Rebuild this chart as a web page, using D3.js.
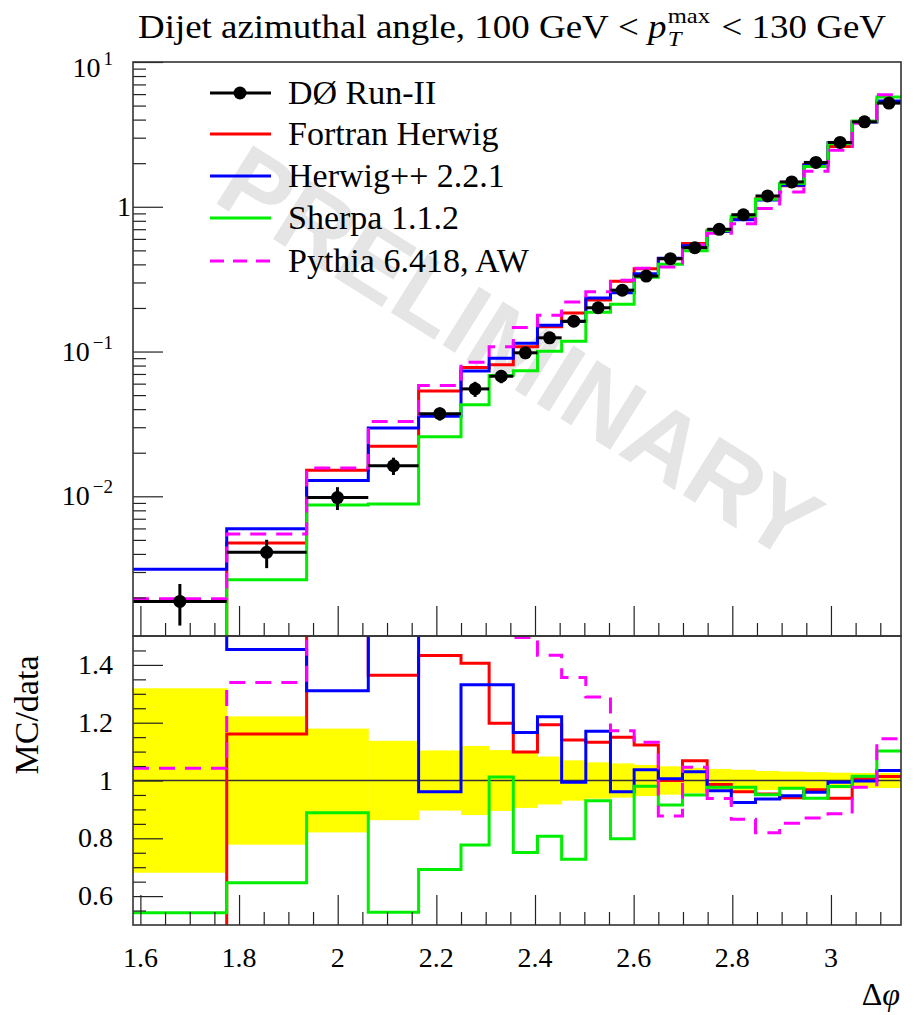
<!DOCTYPE html>
<html>
<head>
<meta charset="utf-8">
<script src="https://cdn.jsdelivr.net/npm/d3@7"></script>
<style>
  body { margin: 0; background: #fff; }
  svg { display: block; font-family: 'Liberation Serif', 'Times New Roman', serif; }
</style>
</head>
<body>
<svg id="chart" width="915" height="1015"></svg>
<script>
// Δφ bin edges (radians)
const binEdges = [1.585, 1.775, 1.937, 2.062, 2.164, 2.250, 2.307, 2.356, 2.405, 2.454,
                  2.503, 2.553, 2.601, 2.650, 2.699, 2.749, 2.798, 2.847, 2.896, 2.945,
                  2.994, 3.043, 3.093, 3.142];

// DØ Run-II measurement and its uncertainty
const dataVal = [1.88e-3, 4.10e-3, 9.80e-3, 0.01626, 0.0372, 0.0552, 0.0675, 0.0980, 0.1244, 0.162,
                 0.2006, 0.2655, 0.332, 0.438, 0.522, 0.699, 0.881, 1.188, 1.485, 2.024,
                 2.781, 3.86, 5.20];
const dataErr = [6.0e-4, 9.1e-4, 1.76e-3, 2.23e-3, 3.87e-3, 6.6e-3, 7.1e-3, 9.3e-3, 0.0103, 0.0113,
                 0.0126, 0.0157, 0.0179, 0.0215, 0.0230, 0.0280, 0.0326, 0.0392, 0.0460, 0.0587,
                 0.0750, 0.100, 0.135];

// Generator predictions
const fortranHerwig = [8.0e-4, 4.76e-3, 0.01515, 0.02218, 0.0533, 0.0776, 0.0809, 0.1077, 0.1484, 0.1847,
                       0.2271, 0.3053, 0.3728, 0.438, 0.5575, 0.6892, 0.8466, 1.132, 1.397, 1.959,
                       2.609, 3.883, 5.273];
const herwigPP = [3.13e-3, 5.96e-3, 0.01284, 0.02965, 0.03575, 0.07347, 0.08984, 0.1143, 0.1518, 0.161,
                  0.2347, 0.2551, 0.3443, 0.4406, 0.5377, 0.6745, 0.814, 1.112, 1.406, 1.941,
                  2.764, 3.852, 5.382];
const sherpa = [1.02e-3, 2.65e-3, 8.71e-3, 8.85e-3, 0.02574, 0.04289, 0.06831, 0.0736, 0.1004, 0.1179,
                0.1866, 0.2119, 0.3254, 0.4008, 0.4959, 0.6829, 0.8607, 1.129, 1.445, 1.899,
                2.723, 3.918, 5.730];
const pythia = [1.96e-3, 5.49e-3, 0.01568, 0.0329, 0.0582, 0.0843, 0.1078, 0.1465, 0.1783, 0.2198,
                0.2586, 0.3112, 0.3758, 0.3841, 0.546, 0.6557, 0.763, 0.973, 1.265, 1.761,
                2.461, 3.771, 5.949];

const seriesNames = ["DØ Run-II", "Fortran Herwig", "Herwig++ 2.2.1", "Sherpa 1.1.2", "Pythia 6.418, AW"];
const xTicks = [1.6, 1.8, 2.0, 2.2, 2.4, 2.6, 2.8, 3.0];
const xTickLabels = ["1.6", "1.8", "2", "2.2", "2.4", "2.6", "2.8", "3"];
const ratioTicks = [0.6, 0.8, 1.0, 1.2, 1.4];
const ratioTickLabels = ["0.6", "0.8", "1", "1.2", "1.4"];
const logTicks = [0.01, 0.1, 1, 10];

const FONT = "'Liberation Serif', 'Times New Roman', serif";
const NB = "\u00a0";
const svg = d3.select("#chart").attr("font-family", FONT);
const L = 133, R = 901, T = 62, MID = 636, B = 925;

const x = d3.scaleLinear().domain([binEdges[0], binEdges[binEdges.length - 1]]).range([L, R]);
const y = d3.scaleLog().domain([1.084e-3, 10]).range([MID, T]);
const yr = d3.scaleLinear().domain([0.5, 1.5]).range([B, MID]);

const defs = svg.append("defs");
defs.append("clipPath").attr("id", "clipMain").append("rect")
  .attr("x", L).attr("y", T).attr("width", R - L).attr("height", MID - T);
defs.append("clipPath").attr("id", "clipRatio").append("rect")
  .attr("x", L).attr("y", MID).attr("width", R - L).attr("height", B - MID);

// Text with inline italic parts and stacked sub/superscripts;
// optional target width stretches the run horizontally.
function rich(g, px, py, parts, anchor, targetW) {
  const outer = g.append("g");
  const grp = outer.append("g").attr("font-family", FONT).attr("fill", "#000");
  let cx = 0;
  const put = (q, at) => grp.append("text").attr("x", at).attr("y", q.rise || 0)
      .attr("font-size", q.size).attr("font-style", q.italic ? "italic" : "normal")
      .text(q.text.replace(/ /g, NB));
  parts.forEach(p => {
    if (p.stack) {
      let w = 0;
      p.stack.forEach(q => { w = Math.max(w, put(q, cx).node().getComputedTextLength()); });
      cx += w + (p.gap || 0);
    } else {
      cx += put(p, cx).node().getComputedTextLength() + (p.gap || 0);
    }
  });
  const sx = targetW ? targetW / cx : 1;
  const w = cx * sx;
  const shift = anchor === "end" ? -w : anchor === "middle" ? -w / 2 : 0;
  outer.attr("transform", `translate(${px + shift},${py})`);
  grp.attr("transform", `scale(${sx},1)`);
  return outer;
}

// Watermark
svg.append("g").attr("clip-path", "url(#clipMain)")
  .append("text")
  .attr("transform", "translate(520,352) rotate(32)")
  .attr("text-anchor", "middle").attr("dominant-baseline", "central")
  .attr("font-family", "'Liberation Sans', Arial, sans-serif")
  .attr("font-weight", "bold").attr("font-size", 100)
  .attr("fill", "#e5e5e5").text("PRELIMINARY");

// ---------- ratio panel band ----------
const ratioG = svg.append("g").attr("clip-path", "url(#clipRatio)");
ratioG.selectAll("rect.band").data(dataVal).join("rect").attr("class", "band")
  .attr("x", (d, i) => x(binEdges[i]))
  .attr("width", (d, i) => x(binEdges[i + 1]) - x(binEdges[i]) + 0.5)
  .attr("y", (d, i) => yr(1 + dataErr[i] / d))
  .attr("height", (d, i) => yr(1 - dataErr[i] / d) - yr(1 + dataErr[i] / d))
  .attr("fill", "#ffff00");
ratioG.append("line").attr("x1", L).attr("x2", R).attr("y1", yr(1)).attr("y2", yr(1))
  .attr("stroke", "#333").attr("stroke-width", 1.3);

// ---------- histograms ----------
const stepPoints = vals => vals.flatMap((v, i) => [[binEdges[i], v], [binEdges[i + 1], v]]);
const mainLine = d3.line().x(d => x(d[0])).y(d => y(d[1]));
const ratioLine = d3.line().x(d => x(d[0])).y(d => yr(d[1]));
const mainG = svg.append("g").attr("clip-path", "url(#clipMain)");

const mc = [
  { vals: fortranHerwig, color: "#ff0000", dash: null },
  { vals: herwigPP, color: "#0000ff", dash: null },
  { vals: sherpa, color: "#00ee00", dash: null },
  { vals: pythia, color: "#ff00ff", dash: "16,10" }
];
mc.forEach(s => {
  mainG.append("path").attr("d", mainLine(stepPoints(s.vals)))
    .attr("fill", "none").attr("stroke", s.color).attr("stroke-width", 3)
    .attr("stroke-dasharray", s.dash);
  ratioG.append("path").attr("d", ratioLine(stepPoints(s.vals.map((v, i) => v / dataVal[i]))))
    .attr("fill", "none").attr("stroke", s.color).attr("stroke-width", 3)
    .attr("stroke-dasharray", s.dash);
});

// ---------- data points ----------
const pts = mainG.selectAll("g.pt").data(dataVal).join("g").attr("class", "pt");
pts.append("line")
  .attr("x1", (d, i) => x(binEdges[i])).attr("x2", (d, i) => x(binEdges[i + 1]))
  .attr("y1", d => y(d)).attr("y2", d => y(d))
  .attr("stroke", "#000").attr("stroke-width", 3);
pts.append("line")
  .attr("x1", (d, i) => x((binEdges[i] + binEdges[i + 1]) / 2))
  .attr("x2", (d, i) => x((binEdges[i] + binEdges[i + 1]) / 2))
  .attr("y1", (d, i) => y(d + dataErr[i])).attr("y2", (d, i) => y(d - dataErr[i]))
  .attr("stroke", "#000").attr("stroke-width", 3);
pts.append("circle")
  .attr("cx", (d, i) => x((binEdges[i] + binEdges[i + 1]) / 2)).attr("cy", d => y(d))
  .attr("r", 6.5).attr("fill", "#000");

// ---------- axes (ticks only) ----------
function styleAxis(g) {
  g.select(".domain").remove();
  g.selectAll("line").attr("stroke", "#222").attr("stroke-width", 1.2);
}
const minorX = d3.range(0, 31).map(i => +(1.6 + i * 0.05).toFixed(2)).filter(v => xTicks.indexOf(v) < 0);
[MID, B].forEach(yy => {
  svg.append("g").attr("transform", `translate(0,${yy})`)
    .call(d3.axisBottom(x).tickValues(xTicks).tickSize(-30).tickFormat("")).call(styleAxis);
  svg.append("g").attr("transform", `translate(0,${yy})`)
    .call(d3.axisBottom(x).tickValues(minorX).tickSize(-13).tickFormat("")).call(styleAxis);
});

const minorLog = [];
[-3, -2, -1, 0].forEach(e => { for (let k = 2; k <= 9; k++) { const v = k * Math.pow(10, e); if (v > 1.084e-3 && v < 10) minorLog.push(v); } });
svg.append("g").attr("transform", `translate(${L},0)`)
  .call(d3.axisLeft(y).tickValues(logTicks).tickSize(-30).tickFormat("")).call(styleAxis);
svg.append("g").attr("transform", `translate(${L},0)`)
  .call(d3.axisLeft(y).tickValues(minorLog).tickSize(-13).tickFormat("")).call(styleAxis);

const minorR = d3.range(0, 20).map(i => +(0.55 + i * 0.05).toFixed(2))
  .filter(v => v < 1.5 && ratioTicks.indexOf(v) < 0);
svg.append("g").attr("transform", `translate(${L},0)`)
  .call(d3.axisLeft(yr).tickValues(ratioTicks).tickSize(-30).tickFormat("")).call(styleAxis);
svg.append("g").attr("transform", `translate(${L},0)`)
  .call(d3.axisLeft(yr).tickValues(minorR).tickSize(-13).tickFormat("")).call(styleAxis);

// frames
[[T, MID], [MID, B]].forEach(([a, b]) => {
  svg.append("rect").attr("x", L).attr("y", a).attr("width", R - L).attr("height", b - a)
    .attr("fill", "none").attr("stroke", "#333").attr("stroke-width", 1.6);
});

// ---------- labels ----------
const TS = 28;
const label = (px, py, txt, anchor, size) => svg.append("text").attr("x", px).attr("y", py)
  .attr("text-anchor", anchor).attr("font-family", FONT).attr("font-size", size).text(txt);

xTicks.forEach((v, i) => label(x(v), 967, xTickLabels[i], "middle", TS));
ratioTicks.forEach((v, i) => label(113, yr(v) + 9, ratioTickLabels[i], "end", TS));
logTicks.forEach(v => {
  const e = Math.round(Math.log10(v));
  const yy = y(v) + 9 + (e === 1 ? 6 : 0);
  if (e === 0) {
    label(131, yy, "1", "end", TS);
  } else {
    rich(svg, 113, yy, [{ text: "10", size: TS, gap: 3 },
      { text: (e < 0 ? "\u2212" : "") + Math.abs(e), size: 19, rise: -12 }], "end");
  }
});

svg.append("text").attr("transform", "translate(38,715) rotate(-90)").attr("text-anchor", "middle")
  .attr("font-family", FONT).attr("font-size", 34).text("MC/data");

rich(svg, 900, 1005, [{ text: "\u0394", size: 32 }, { text: "\u03c6", size: 32, italic: true }], "end");

rich(svg, 886, 38, [
  { text: "Dijet azimuthal angle, 100 GeV < ", size: 33 },
  { text: "p", size: 33, italic: true, gap: 1 },
  { stack: [{ text: "max", size: 22, rise: -15 }, { text: "T", size: 22, italic: true, rise: 8 }], gap: 2 },
  { text: " < 130 GeV", size: 33 }
], "end", 748);

// ---------- legend ----------
const legY = [93, 134, 176, 218, 261];
const legColors = ["#000", "#ff0000", "#0000ff", "#00ee00", "#ff00ff"];
const leg = svg.append("g");
seriesNames.forEach((name, i) => {
  leg.append("line").attr("x1", 210).attr("x2", 271).attr("y1", legY[i]).attr("y2", legY[i])
    .attr("stroke", legColors[i]).attr("stroke-width", 3)
    .attr("stroke-dasharray", i === 4 ? "14,9" : null);
  if (i === 0) leg.append("circle").attr("cx", 240).attr("cy", legY[i]).attr("r", 6.5).attr("fill", "#000");
  leg.append("text").attr("x", 288).attr("y", legY[i] + 11)
    .attr("font-family", FONT).attr("font-size", 34).text(name);
});
</script>
</body>
</html>
